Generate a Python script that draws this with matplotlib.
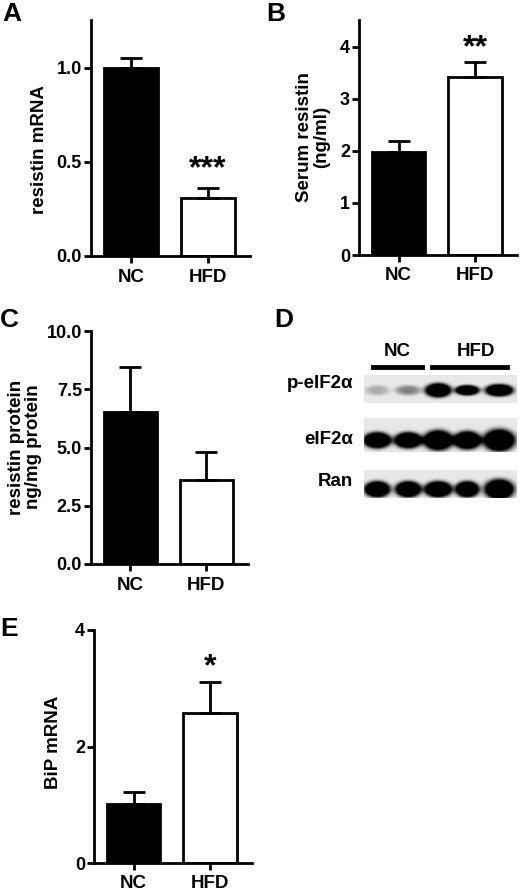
import numpy as np
import matplotlib
matplotlib.use("Agg")
import matplotlib.pyplot as plt

plt.rcParams['font.family'] = ['Liberation Sans', 'DejaVu Sans']
plt.rcParams['font.weight'] = 'bold'

W, H = 520, 892

# ---- data ----
groups = ['NC', 'HFD']

# A: resistin mRNA
a_mean = [1.00, 0.31]
a_err = [0.055, 0.053]
# B: serum resistin (ng/ml)
b_mean = [1.98, 3.42]
b_err = [0.21, 0.28]
# C: resistin protein (ng/mg protein)
c_mean = [6.53, 3.60]
c_err = [1.93, 1.21]
# E: BiP mRNA
e_mean = [1.01, 2.57]
e_err = [0.21, 0.53]

# D: western blot band intensities (5 lanes: 2 NC, 3 HFD)
blot_rows = ['p-eIF2\u03b1', 'eIF2\u03b1', 'Ran']
p_eif2a = [0.15, 0.25, 1.0, 1.0, 1.0]
eif2a = [1.0, 1.0, 1.0, 1.0, 1.0]
ran = [1.0, 1.0, 1.0, 1.0, 1.0]


def px_axes(fig, left, top, right, bottom):
    return fig.add_axes([left / W, 1 - bottom / H, (right - left) / W, (bottom - top) / H])


def bar_panel(ax, means, errs, ylim, yticks, yfmt, star=None, star_y=None):
    x = np.arange(len(groups))
    ax.bar(x, means, width=0.70, color=['black', 'white'], edgecolor='black', linewidth=2)
    ax.errorbar(x, means, yerr=[np.zeros(len(errs)), errs], fmt='none',
                ecolor='black', elinewidth=2, capsize=8, capthick=2)
    ax.set_xlim(-0.52, 1.55)
    ax.set_ylim(*ylim)
    ax.set_yticks(yticks)
    ax.set_yticklabels([yfmt.format(t) for t in yticks], fontsize=13, fontweight='bold')
    ax.set_xticks(x)
    ax.set_xticklabels(groups, fontsize=13.5, fontweight='bold')
    ax.spines['top'].set_visible(False)
    ax.spines['right'].set_visible(False)
    ax.spines['left'].set_linewidth(2)
    ax.spines['bottom'].set_linewidth(2)
    ax.tick_params(axis='y', length=5, width=2, pad=1.5)
    ax.tick_params(axis='x', length=5, width=2, pad=4)
    if star:
        ax.text(1, star_y, star, ha='center', va='baseline', fontsize=23, fontweight='bold')


def ylabel_px(text, x, y):
    fig.text(x / W, 1 - y / H, text, rotation=90, ha='center', va='center',
             fontsize=13.5, fontweight='bold', linespacing=1.05)


fig = plt.figure(figsize=(W / 100, H / 100), dpi=100)

# A
axA = px_axes(fig, 91, 20, 250, 256)
bar_panel(axA, a_mean, a_err, (0, 1.255), [0.0, 0.5, 1.0], '{:.1f}', '***', 0.42)
ylabel_px('resistin mRNA', 40, 150)

# B
axB = px_axes(fig, 359, 20, 517, 255)
bar_panel(axB, b_mean, b_err, (0, 4.51), [0, 1, 2, 3, 4], '{:d}', '**', 3.81)
ylabel_px('Serum resistin\n(ng/ml)', 313, 137)

# C
axC = px_axes(fig, 91, 331, 248, 564)
bar_panel(axC, c_mean, c_err, (0, 10.0), [0.0, 2.5, 5.0, 7.5, 10.0], '{:.1f}')
ylabel_px('resistin protein\nng/mg protein', 25, 447)

# E
axE = px_axes(fig, 94, 630, 252, 863)
bar_panel(axE, e_mean, e_err, (0, 4.0), [0, 2, 4], '{:d}', '*', 3.23)
ylabel_px('BiP mRNA', 53, 742)

# D: blot
lane_x = [377, 408, 438, 467, 499]
strips = [
    # top, bottom, intensities, half widths, half heights, centre y, label y
    (375, 403, p_eif2a, [12, 13, 13, 12, 14], [5, 5, 7, 5, 6], 390, 383),
    (418, 452, eif2a, [14, 14, 15, 14, 16], [8, 8, 10, 9, 11], 440, 440),
    (470, 498, ran, [13, 13, 14, 12, 15], [8, 8, 8, 8, 10], 489, 482),
]
strip_left, strip_right = 364, 517
for top, bottom, inten, hw, hh, cy, ly in strips:
    ax = px_axes(fig, strip_left, top, strip_right, bottom)
    xs = np.arange(strip_left, strip_right, 0.5)
    ys = np.arange(top, bottom, 0.5)
    X, Y = np.meshgrid(xs, ys)
    img = np.full(X.shape, 0.09)
    for lx, amp, wx, wy in zip(lane_x, inten, hw, hh):
        r = (((X - lx) / wx) ** 2 + ((Y - cy) / wy) ** 2)
        band = amp * np.exp(-r ** 2) * 1.6
        img = img + band
    img = np.clip(img, 0, 1)
    ax.imshow(img, cmap='gray_r', vmin=0, vmax=1, aspect='auto',
              extent=[strip_left, strip_right, bottom, top], interpolation='bilinear')
    ax.axis('off')

for row, s in zip(blot_rows, strips):
    fig.text(353 / W, 1 - s[6] / H, row, ha='right', va='center', fontsize=13.5,
             fontweight='bold')

fig.add_artist(plt.Line2D([373 / W, 422 / W], [1 - 367 / H] * 2, color='black', lw=3.5))
fig.add_artist(plt.Line2D([432 / W, 507 / W], [1 - 367 / H] * 2, color='black', lw=3.5))
fig.text(397 / W, 1 - 352 / H, 'NC', ha='center', va='center', fontsize=13.5, fontweight='bold')
fig.text(476 / W, 1 - 352 / H, 'HFD', ha='center', va='center', fontsize=13.5, fontweight='bold')

# panel letters
for letter, x, y in [('A', 2, 14), ('B', 266, 14), ('C', 0, 320), ('D', 274, 320), ('E', 0, 629)]:
    fig.text(x / W, 1 - y / H, letter, ha='left', va='center', fontsize=19, fontweight='bold')

fig.savefig('out.png', dpi=100)
